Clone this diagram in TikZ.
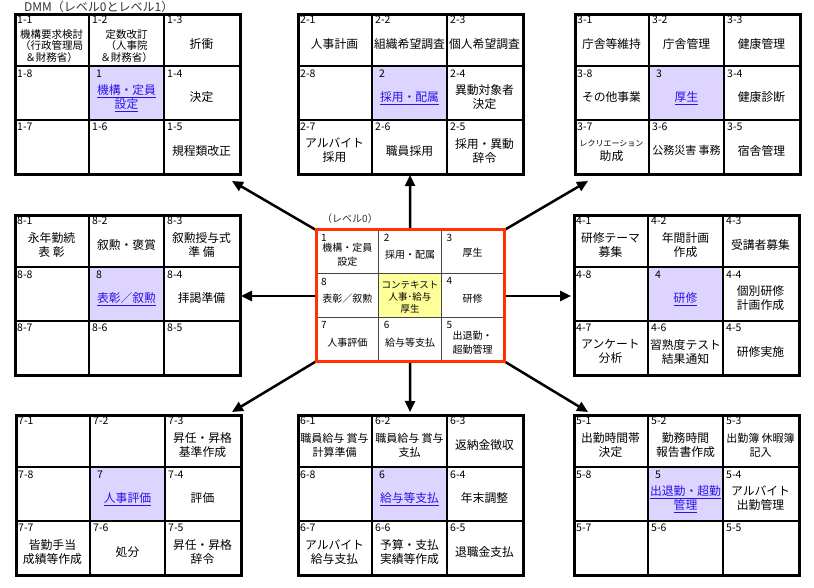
\documentclass[tikz,border=0pt]{standalone}
\usepackage{fontspec}
\newfontfamily\jp{Noto Sans CJK JP}
\usetikzlibrary{arrows.meta}
\definecolor{lav}{RGB}{221,212,255}
\definecolor{linkc}{RGB}{40,20,230}
\definecolor{yel}{RGB}{255,255,153}
\definecolor{redb}{RGB}{255,51,0}
\definecolor{cgray}{RGB}{70,70,70}
\definecolor{titlec}{RGB}{50,50,50}
\newcommand\lnk[1]{\underline{#1}}
\tikzset{
 gridbox/.style={draw, line width=3pt, minimum width=225pt, minimum height=160pt, anchor=north west, inner sep=0pt},
 gline/.style={line width=2pt},
 numlbl/.style={anchor=north west, inner sep=0pt, font=\jp\fontsize{10.5}{11}\selectfont},
 celltxt/.style={inner sep=0pt, align=center, font=\jp\fontsize{11.8}{14}\selectfont},
 three/.style={font=\jp\fontsize{10.5}{11.5}\selectfont, yshift=-2pt},
 tight/.style={font=\jp\fontsize{11}{14}\selectfont},
 linktxt/.style={celltxt, text=linkc},
 ctxt/.style={inner sep=0pt, align=center, font=\jp\fontsize{10}{14}\selectfont},
 conn/.style={line width=2.5pt, -{Triangle[length=11pt,width=10pt]}},
}
% #1 style, #2 gx, #3 gy, #4 col, #5 row, #6 num, #7 text
\newcommand\gcell[7][]{%
 \node[numlbl] (n#6) at ({#2+#4*75+3},{#3+#5*160/3+3}) {#6};
 \node[celltxt,#1] (t#6) at ({#2+#4*75+37.5},{#3+#5*160/3+31}) {#7};
}
% #1 name, #2 gx, #3 gy
\newcommand\gframe[3]{%
 \fill[lav] ({#2+75},{#3+160/3}) rectangle ++(75,160/3);
 \draw[gline] ({#2+75},#3) -- ++(0,160) ({#2+150},#3) -- ++(0,160)
   (#2,{#3+160/3}) -- ++(225,0) (#2,{#3+320/3}) -- ++(225,0);
 \node[gridbox] (#1) at (#2,#3) {};
}
% #1 gx, #2 gy, #3 num, #4 text
\newcommand\gmain[4]{%
 \node[numlbl] (n#3) at ({#1+75+7},{#2+160/3+3}) {#3};
 \node[linktxt] (t#3) at ({#1+112.5},{#2+160/3+32}) {#4};
}
% #1 col, #2 row, #3 num, #4 text
\newcommand\ccell[4]{%
 \node[numlbl,font=\jp\fontsize{10}{10}\selectfont] (c#3) at ({316+#1*188/3+5},{230+#2*131/3+4}) {#3};
 \node[ctxt] (ct#3) at ({316+#1*188/3+94/3},{230+#2*131/3+25}) {#4};
}
\begin{document}
\begin{tikzpicture}[x=1pt,y=-1pt]
\fill[white] (0,0) rectangle (814,588);
\useasboundingbox (0,0) rectangle (814,588);

\node[anchor=west, inner sep=0pt, font=\jp\fontsize{12}{12}\selectfont, text=titlec] (title) at (24,7) {DMM（レベル0とレベル1）};
\node[anchor=west, inner sep=0pt, font=\jp\fontsize{10}{12}\selectfont, text=titlec] (lv0) at (322,219) {（レベル0）};

% Grid 1
\gframe{g1}{14}{13}
\gcell[three]{14}{13}{0}{0}{1-1}{機構要求検討\\（行政管理局\\＆財務省）}
\gcell[three]{14}{13}{1}{0}{1-2}{定数改訂\\（人事院\\＆財務省）}
\gcell{14}{13}{2}{0}{1-3}{折衝}
\gcell{14}{13}{0}{1}{1-8}{}
\gmain{14}{13}{1}{\lnk{機構・定員}\\\lnk{設定}}
\gcell{14}{13}{2}{1}{1-4}{決定}
\gcell{14}{13}{0}{2}{1-7}{}
\gcell{14}{13}{1}{2}{1-6}{}
\gcell{14}{13}{2}{2}{1-5}{規程類改正}

% Grid 2
\gframe{g2}{297}{13}
\gcell{297}{13}{0}{0}{2-1}{人事計画}
\gcell{297}{13}{1}{0}{2-2}{組織希望調査}
\gcell{297}{13}{2}{0}{2-3}{個人希望調査}
\gcell{297}{13}{0}{1}{2-8}{}
\gmain{297}{13}{2}{\lnk{採用・配属}}
\gcell{297}{13}{2}{1}{2-4}{異動対象者\\決定}
\gcell{297}{13}{0}{2}{2-7}{アルバイト\\採用}
\gcell{297}{13}{1}{2}{2-6}{職員採用}
\gcell{297}{13}{2}{2}{2-5}{採用・異動\\辞令}

% Grid 3
\gframe{g3}{574}{13}
\gcell{574}{13}{0}{0}{3-1}{庁舎等維持}
\gcell{574}{13}{1}{0}{3-2}{庁舎管理}
\gcell{574}{13}{2}{0}{3-3}{健康管理}
\gcell{574}{13}{0}{1}{3-8}{その他事業}
\gmain{574}{13}{3}{\lnk{厚生}}
\gcell{574}{13}{2}{1}{3-4}{健康診断}
\gcell{574}{13}{0}{2}{3-7}{{\fontsize{8}{9}\selectfont レクリエーション}\\助成}
\gcell[tight]{574}{13}{1}{2}{3-6}{公務災害 事務}
\gcell{574}{13}{2}{2}{3-5}{宿舎管理}

% Grid 8
\gframe{g8}{14}{214}
\gcell{14}{214}{0}{0}{8-1}{永年勤続\\表 彰}
\gcell{14}{214}{1}{0}{8-2}{叙勲・褒賞}
\gcell{14}{214}{2}{0}{8-3}{叙勲授与式\\準 備}
\gcell{14}{214}{0}{1}{8-8}{}
\gmain{14}{214}{8}{\lnk{表彰／叙勲}}
\gcell{14}{214}{2}{1}{8-4}{拝謁準備}
\gcell{14}{214}{0}{2}{8-7}{}
\gcell{14}{214}{1}{2}{8-6}{}
\gcell{14}{214}{2}{2}{8-5}{}

% Grid 4
\gframe{g4}{573}{214}
\gcell{573}{214}{0}{0}{4-1}{研修テーマ\\募集}
\gcell{573}{214}{1}{0}{4-2}{年間計画\\作成}
\gcell{573}{214}{2}{0}{4-3}{受講者募集}
\gcell{573}{214}{0}{1}{4-8}{}
\gmain{573}{214}{4}{\lnk{研修}}
\gcell{573}{214}{2}{1}{4-4}{個別研修\\計画作成}
\gcell{573}{214}{0}{2}{4-7}{アンケート\\分析}
\gcell{573}{214}{1}{2}{4-6}{習熟度テスト\\結果通知}
\gcell{573}{214}{2}{2}{4-5}{研修実施}

% Grid 7
\gframe{g7}{15}{414}
\gcell{15}{414}{0}{0}{7-1}{}
\gcell{15}{414}{1}{0}{7-2}{}
\gcell{15}{414}{2}{0}{7-3}{昇任・昇格\\基準作成}
\gcell{15}{414}{0}{1}{7-8}{}
\gmain{15}{414}{7}{\lnk{人事評価}}
\gcell{15}{414}{2}{1}{7-4}{評価}
\gcell{15}{414}{0}{2}{7-7}{皆勤手当\\成績等作成}
\gcell{15}{414}{1}{2}{7-6}{処分}
\gcell{15}{414}{2}{2}{7-5}{昇任・昇格\\辞令}

% Grid 6
\gframe{g6}{297}{414}
\gcell[tight]{297}{414}{0}{0}{6-1}{職員給与 賞与\\計算準備}
\gcell[tight]{297}{414}{1}{0}{6-2}{職員給与 賞与\\支払}
\gcell{297}{414}{2}{0}{6-3}{返納金徴収}
\gcell{297}{414}{0}{1}{6-8}{}
\gmain{297}{414}{6}{\lnk{給与等支払}}
\gcell{297}{414}{2}{1}{6-4}{年末調整}
\gcell{297}{414}{0}{2}{6-7}{アルバイト\\給与支払}
\gcell{297}{414}{1}{2}{6-6}{予算・支払\\実績等作成}
\gcell{297}{414}{2}{2}{6-5}{退職金支払}

% Grid 5
\gframe{g5}{573}{414}
\gcell{573}{414}{0}{0}{5-1}{出勤時間帯\\決定}
\gcell{573}{414}{1}{0}{5-2}{勤務時間\\報告書作成}
\gcell[tight]{573}{414}{2}{0}{5-3}{出勤簿 休暇簿\\記入}
\gcell{573}{414}{0}{1}{5-8}{}
\gmain{573}{414}{5}{\lnk{出退勤・超勤}\\\lnk{管理}}
\gcell{573}{414}{2}{1}{5-4}{アルバイト\\出勤管理}
\gcell{573}{414}{0}{2}{5-7}{}
\gcell{573}{414}{1}{2}{5-6}{}
\gcell{573}{414}{2}{2}{5-5}{}

% Center grid
\node[minimum width=188pt, minimum height=131pt, anchor=north west, inner sep=0pt] (ctr) at (316,230) {};
\coordinate (p-ul) at (232,181);
\coordinate (p-up) at (410,175);
\coordinate (p-ur) at (588,181);
\coordinate (p-lf) at (241,296);
\coordinate (p-rt) at (571,296);
\coordinate (p-dl) at (232,412);
\coordinate (p-dn) at (410,412);
\coordinate (p-dr) at (588,412);
\draw[conn] (ctr.north west) -- (p-ul);
\draw[conn] (ctr.north) -- (p-up);
\draw[conn] (ctr.north east) -- (p-ur);
\draw[conn] (316,296) -- (p-lf);
\draw[conn] (504,296) -- (p-rt);
\draw[conn] (ctr.south west) -- (p-dl);
\draw[conn] (ctr.south) -- (p-dn);
\draw[conn] (ctr.south east) -- (p-dr);

\fill[white] (316,230) rectangle (504,361);
\fill[yel] ({316+188/3},{230+131/3}) rectangle ++(188/3,131/3);
\draw[line width=1.5pt, cgray] ({316+188/3},230) -- ++(0,131) ({316+376/3},230) -- ++(0,131)
  (316,{230+131/3}) -- ++(188,0) (316,{230+262/3}) -- ++(188,0);
\ccell{0}{0}{1}{機構・定員\\設定}
\ccell{1}{0}{2}{採用・配属}
\node[ctxt] (ct3) at ({316+2*188/3+94/3},253) {厚生};
\node[numlbl,font=\jp\fontsize{10}{10}\selectfont] (c3) at ({316+2*188/3+5},234) {3};
\ccell{0}{1}{8}{表彰／叙勲}
\node[ctxt, font=\jp\fontsize{9.5}{12}\selectfont] (ctx) at ({316+188/3+94/3},{230+131/3+23}) {コンテキスト\\人事･給与\\厚生};
\ccell{2}{1}{4}{研修}
\ccell{0}{2}{7}{人事評価}
\ccell{1}{2}{6}{給与等支払}
\ccell{2}{2}{5}{出退勤・\\超勤管理}
\draw[line width=3pt, redb] (ctr.north west) rectangle (ctr.south east);
\end{tikzpicture}
\end{document}
